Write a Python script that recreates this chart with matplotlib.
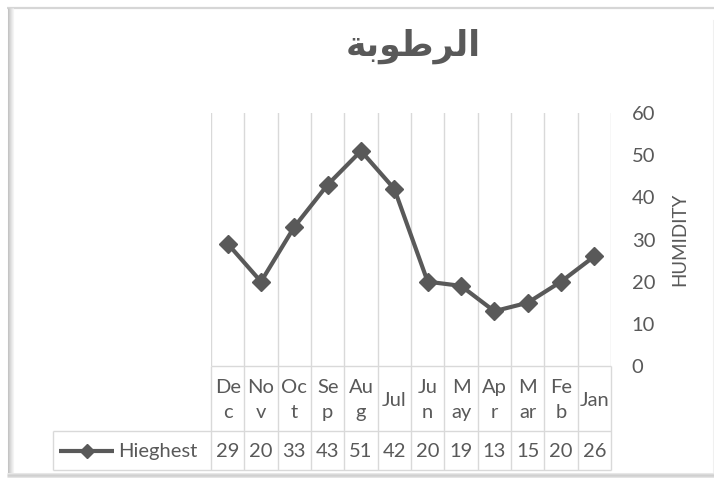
import matplotlib
matplotlib.use("Agg")
import matplotlib.pyplot as plt
import numpy as np

# ---------------- data ----------------
months = ["Dec", "Nov", "Oct", "Sep", "Aug", "Jul", "Jun", "May", "Apr", "Mar", "Feb", "Jan"]
month_labels = ["De\nc", "No\nv", "Oc\nt", "Se\np", "Au\ng", "Jul",
                "Ju\nn", "M\nay", "Ap\nr", "M\nar", "Fe\nb", "Jan"]
highest = [29, 20, 33, 43, 51, 42, 20, 19, 13, 15, 20, 26]
series_name = "Hieghest"
y_ticks = [0, 10, 20, 30, 40, 50, 60]
# "الرطوبة" written with Arabic presentation forms in visual order (matplotlib has no shaping)
title_text = "\uFE94\uFE91\uFEEE\uFEC3\uFEAE\uFEDF\uFE8D"
y_label = "HUMIDITY"

# ---------------- style ----------------
W, H = 714, 478
TXT = "#595959"
LINE = "#595959"
GRID = "#d9d9d9"
FONT = ["Lato", "DejaVu Sans"]
FS = 14.5

plt.rcParams["font.family"] = FONT

fig = plt.figure(figsize=(W / 100, H / 100), dpi=100)
fig.patch.set_facecolor("white")


def fx(px):
    return px / W


def fy(py):
    return 1 - py / H


# background frame (pixel coordinates)
bg = fig.add_axes([0, 0, 1, 1], zorder=-5)
bg.set_xlim(0, W)
bg.set_ylim(H, 0)
bg.axis("off")
bg.plot([7, 714], [8, 8], color="#d6d6d6", lw=1.6, solid_capstyle="butt")
shade = ["#c4c4c4", "#cfcfcf", "#d9d9d9", "#e3e3e3", "#ececec", "#f4f4f4"]
for i, c in enumerate(shade):
    bg.plot([7.5 + i, 7.5 + i], [8, 476], color=c, lw=0.75, solid_capstyle="butt")
bshade = ["#e8e8e8", "#dadada", "#d0d0d0", "#d6d6d6", "#e4e4e4"]
for i, c in enumerate(bshade):
    bg.plot([7, 714], [472.5 + i, 472.5 + i], color=c, lw=0.75, solid_capstyle="butt")
bg.plot([713, 713], [20, 472], color="#f0f0f0", lw=0.75)

# ---------------- plot area ----------------
L, R, T, B = 211, 611, 113, 366
n = len(months)
ax = fig.add_axes([fx(L), fy(B), (R - L) / W, (B - T) / H])
xs = np.arange(n)
for b in np.arange(n + 1) - 0.5:
    ax.axvline(b, color=GRID, lw=1.0, zorder=1)
ax.plot(xs, highest, color=LINE, lw=3.0, marker="D", ms=9.5,
        markerfacecolor=LINE, markeredgecolor=LINE, zorder=3, clip_on=False)
ax.set_xlim(-0.5, n - 0.5)
ax.set_ylim(0, 60)
ax.set_xticks([])
ax.set_yticks(y_ticks)
ax.yaxis.tick_right()
ax.tick_params(axis="y", length=0, pad=15, labelsize=FS, labelcolor=TXT)
for s in ax.spines.values():
    s.set_visible(False)

fig.text(fx(680), fy(239), y_label, rotation=90, ha="center", va="center",
         fontsize=FS - 1, color=TXT)

fig.text(fx(413), fy(46), title_text, ha="center", va="center",
         fontsize=25, fontweight="bold", color=TXT, family=["DejaVu Sans"])

# ---------------- data table ----------------
TL, TB = 53, 470
unit = (R - L) / n
xl = -0.5 - (L - TL) / unit
tab = fig.add_axes([fx(TL), fy(TB), (R - TL) / W, (TB - B) / H])
tab.set_xlim(xl, n - 0.5)
tab.set_ylim(0, 1)
tab.axis("off")
div = (TB - 431) / (TB - B)
kw = dict(color=GRID, lw=1.0, solid_capstyle="butt", clip_on=False)
for b in np.arange(n + 1) - 0.5:
    tab.plot([b, b], [0, 1], **kw)
tab.plot([-0.5, n - 0.5], [1, 1], **kw)
tab.plot([xl, n - 0.5], [div, div], **kw)
tab.plot([xl, n - 0.5], [0, 0], **kw)
tab.plot([xl, xl], [0, div], **kw)

for i, lab in enumerate(month_labels):
    tab.text(i, (1 + div) / 2 - 0.015, lab, ha="center", va="center",
             fontsize=FS, color=TXT, linespacing=1.6)
for i, v in enumerate(highest):
    tab.text(i, div / 2 - 0.01, str(v), ha="center", va="center", fontsize=FS, color=TXT)

# legend key inside table
k0 = xl + (59 - TL) / unit
k1 = xl + (114 - TL) / unit
tab.plot([k0, k1], [div / 2, div / 2], color=LINE, lw=3.0, solid_capstyle="butt")
tab.plot([(k0 + k1) / 2], [div / 2], marker="D", ms=7.5, color=LINE)
tab.text(xl + (118 - TL) / unit, div / 2 - 0.01, series_name, ha="left", va="center",
         fontsize=FS, color=TXT)

fig.savefig("out.png", dpi=100, facecolor="white")
